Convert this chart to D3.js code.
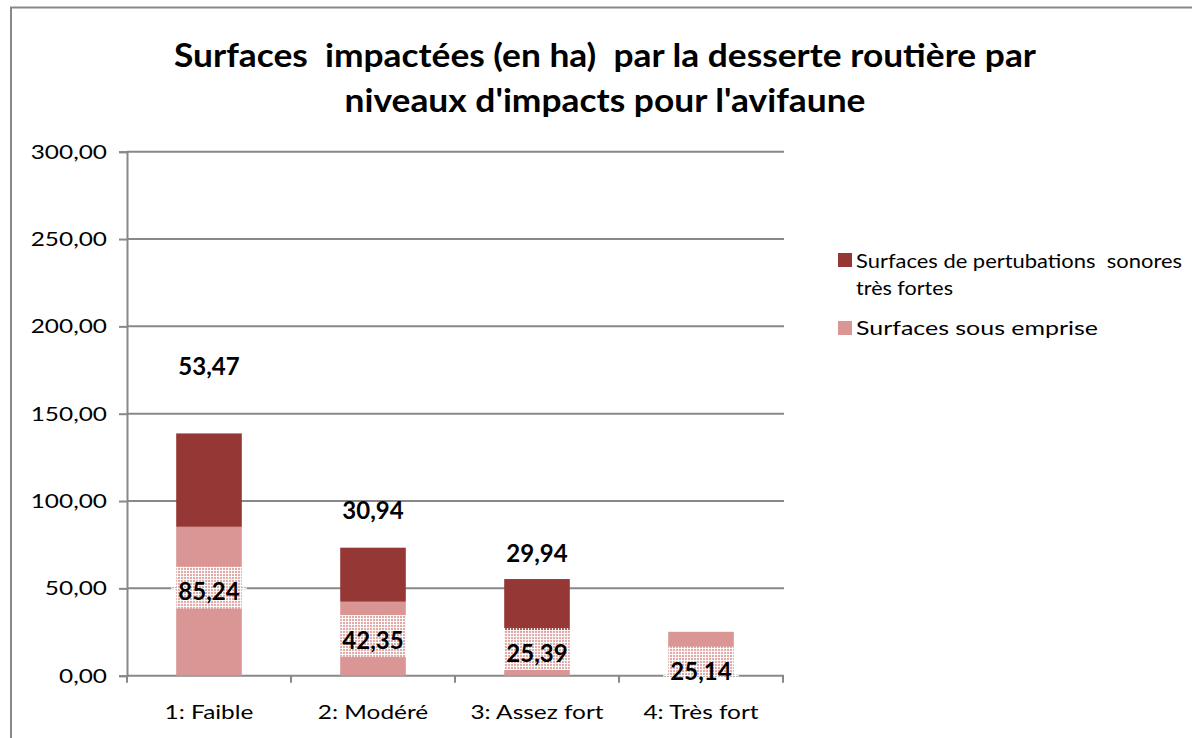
<!DOCTYPE html>
<html>
<head>
<meta charset="utf-8">
<script src="https://cdn.jsdelivr.net/npm/d3@7"></script>
<style>
  html, body { margin: 0; padding: 0; background: #fff; }
  svg { display: block; font-family: Lato, "Open Sans", sans-serif; }
  text { white-space: pre; }
</style>
</head>
<body>
<svg id="chart" width="1192" height="738"></svg>
<script>
// Impact levels (x categories)
const categories = ["1: Faible", "2: Modéré", "3: Assez fort", "4: Très fort"];
// Surfaces sous emprise (ha) — lower stack
const emprise = [85.24, 42.35, 25.39, 25.14];
// Surfaces de perturbations sonores très fortes (ha) — upper stack
const sonores = [53.47, 30.94, 29.94, 0];
// Where each value label sits, in axis units
const empriseLabelAt = [48.1, 20.4, 13.0, 2.3];
const sonoresLabelAt = [176.9, 94.9, 70.1, null];
// Y axis ticks
const yTicks = [0, 50, 100, 150, 200, 250, 300];
const legendLines = ["Surfaces de pertubations  sonores", "très fortes", "Surfaces sous emprise"];
const titleLines = ["Surfaces  impactées (en ha)  par la desserte routière par", "niveaux d'impacts pour l'avifaune"];

const colDark = "#953735";
const colLight = "#D99694";
const gridCol = "#888888";
const fmt = v => v.toFixed(2).replace(".", ",");

const svg = d3.select("#chart");

// widen a text element horizontally by a factor (the chart's text is set wide)
function stretch(sel, k) {
  sel.each(function () {
    const w = this.getComputedTextLength();
    d3.select(this).attr("textLength", w * k).attr("lengthAdjust", "spacingAndGlyphs");
  });
}

// hatch used behind the data labels
const defs = svg.append("defs");
const pat = defs.append("pattern")
  .attr("id", "hatch").attr("patternUnits", "userSpaceOnUse")
  .attr("width", 3).attr("height", 3);
pat.append("rect").attr("width", 3).attr("height", 3).attr("fill", "#fff").attr("fill-opacity", 0.2);
pat.append("rect").attr("width", 3).attr("height", 1).attr("fill", "#fff").attr("fill-opacity", 0.9);
pat.append("rect").attr("width", 1).attr("height", 3).attr("fill", "#fff").attr("fill-opacity", 0.9);

// chart frame
svg.append("rect")
  .attr("x", 11).attr("y", 7.5).attr("width", 1300).attr("height", 900)
  .attr("fill", "#fff").attr("stroke", "#888").attr("stroke-width", 2);

// title
svg.append("g").selectAll("text").data(titleLines).join("text")
  .attr("x", 605).attr("y", (d, i) => 67 + i * 45)
  .attr("text-anchor", "middle")
  .attr("font-weight", 700).attr("font-size", 33)
  .attr("textLength", (d, i) => i === 0 ? 862 : 521)
  .attr("lengthAdjust", "spacingAndGlyphs")
  .attr("fill", "#000")
  .text(d => d);

const x = d3.scaleBand().domain(categories).range([127, 783]).paddingInner(0.6).paddingOuter(0.3);
const y = d3.scaleLinear().domain([0, 300]).range([675.7, 151.7]);

// gridlines
svg.append("g").selectAll("line").data(yTicks.filter(t => t > 0)).join("line")
  .attr("x1", 127).attr("x2", 784)
  .attr("y1", d => y(d)).attr("y2", d => y(d))
  .attr("stroke", gridCol).attr("stroke-width", 2);

// y axis
const yAxis = svg.append("g").attr("transform", "translate(127,0)")
  .call(d3.axisLeft(y).tickValues(yTicks).tickSize(8).tickPadding(12).tickFormat(fmt));
yAxis.select(".domain").attr("stroke", gridCol).attr("stroke-width", 2);
yAxis.selectAll(".tick line").attr("stroke", gridCol).attr("stroke-width", 2);
yAxis.selectAll(".tick text").attr("font-family", "Lato, sans-serif").attr("font-size", 20).attr("fill", "#000")
  .call(stretch, 1.22);

// x axis: boundary ticks between categories
const xAxisG = svg.append("g");
xAxisG.append("line").attr("x1", 127).attr("x2", 784).attr("y1", y(0)).attr("y2", y(0))
  .attr("stroke", gridCol).attr("stroke-width", 2);
const step = x.step();
xAxisG.selectAll("line.tk").data(d3.range(categories.length + 1)).join("line").attr("class", "tk")
  .attr("x1", i => 127 + i * step).attr("x2", i => 127 + i * step)
  .attr("y1", y(0)).attr("y2", y(0) + 7)
  .attr("stroke", gridCol).attr("stroke-width", 2);
xAxisG.selectAll("text").data(categories).join("text")
  .attr("x", d => x(d) + x.bandwidth() / 2).attr("y", 719)
  .attr("text-anchor", "middle").attr("font-size", 20).attr("fill", "#000")
  .text(d => d)
  .call(stretch, 1.22);

// stacked bars
const rows = categories.map((c, i) => ({ cat: c, emprise: emprise[i], sonores: sonores[i] }));
const stack = d3.stack().keys(["emprise", "sonores"])(rows);
const colors = { emprise: colLight, sonores: colDark };
svg.append("g").selectAll("g").data(stack).join("g")
  .attr("fill", s => colors[s.key])
  .selectAll("rect").data(s => s.filter(d => d[1] > d[0])).join("rect")
  .attr("x", d => x(d.data.cat)).attr("width", x.bandwidth())
  .attr("y", d => y(d[1])).attr("height", d => y(d[0]) - y(d[1]));

// value labels
const labG = svg.append("g");
categories.forEach((c, i) => {
  const cx = x(c) + x.bandwidth() / 2;
  // lower series: label on hatched box
  const cy = y(empriseLabelAt[i]);
  const box = labG.append("rect");
  const t = labG.append("text")
    .attr("x", cx).attr("y", cy).attr("dy", "0.36em")
    .attr("text-anchor", "middle").attr("font-weight", 700).attr("font-size", 24)
    .attr("fill", "#000").text(fmt(emprise[i]));
  const w = t.node().getComputedTextLength() + 14;
  box.attr("x", cx - w / 2).attr("y", cy - 25).attr("width", w).attr("height", 42)
    .attr("fill", "url(#hatch)");
  // upper series
  if (sonores[i] > 0) {
    labG.append("text")
      .attr("x", cx).attr("y", y(sonoresLabelAt[i])).attr("dy", "0.36em")
      .attr("text-anchor", "middle").attr("font-weight", 700).attr("font-size", 24)
      .attr("fill", "#000").text(fmt(sonores[i]));
  }
});

// legend
const leg = svg.append("g");
leg.append("rect").attr("x", 838).attr("y", 253).attr("width", 14).attr("height", 14).attr("fill", colDark);
leg.append("rect").attr("x", 838).attr("y", 321).attr("width", 14).attr("height", 14).attr("fill", colLight);
const legTargets = [326, 97, 242];
leg.selectAll("text").data(legendLines).join("text")
  .attr("x", 856).attr("y", (d, i) => [268, 295, 335][i])
  .attr("font-size", 19).attr("fill", "#000")
  .attr("textLength", (d, i) => legTargets[i]).attr("lengthAdjust", "spacingAndGlyphs")
  .text(d => d);
</script>
</body>
</html>
